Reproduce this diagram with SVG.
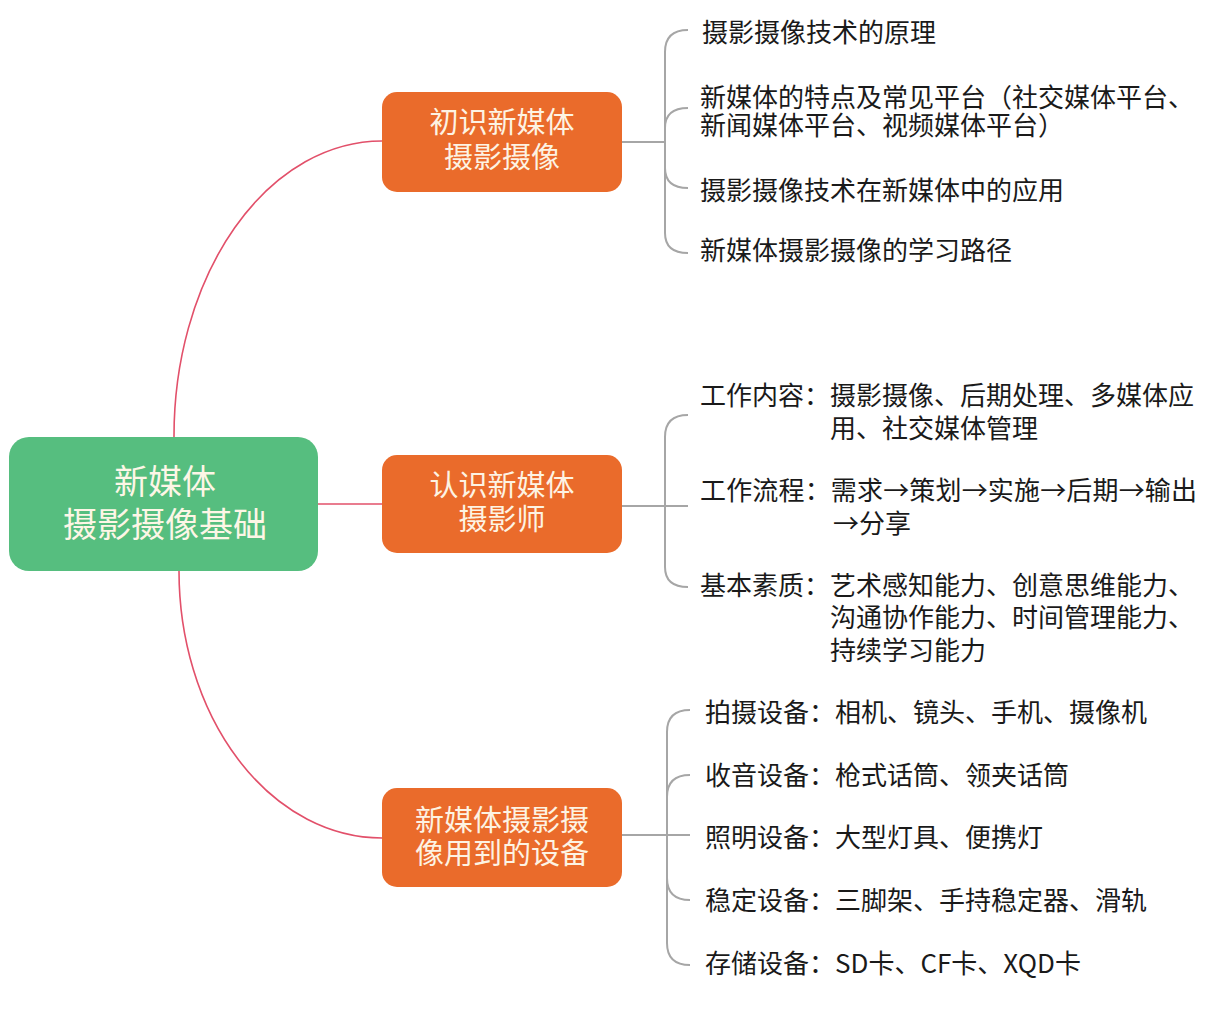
<svg xmlns="http://www.w3.org/2000/svg" width="1222" height="1017" viewBox="0 0 1222 1017">
<style>
.root{fill:#56be7f}
.branch{fill:#ea6b2b}
.rt{font-family:"Noto Sans CJK SC","Noto Sans",sans-serif;font-size:34px;fill:#fdf6e6;text-anchor:middle}
.bt{font-family:"Noto Sans CJK SC","Noto Sans",sans-serif;font-size:29px;fill:#fdf3e3;text-anchor:middle}
.lt{font-family:"Noto Sans CJK SC","Noto Sans",sans-serif;font-size:26px;fill:#1a1a1a}
.red{fill:none;stroke:#e2506a;stroke-width:1.6}
.gray{fill:none;stroke:#a6a6a6;stroke-width:2}
</style>
<rect width="1222" height="1017" fill="#ffffff"/>
<g id="connectors">
  <path class="red" d="M174,437 A208,295 0 0 1 382,141"/>
  <path class="red" d="M318,504 L382,504"/>
  <path class="red" d="M179,571 A203,267 0 0 0 382,838"/>
  <path class="gray" d="M622,142 L665,142"/>
  <path class="gray" d="M665,142 L665,52 Q665,30 688,30"/>
  <path class="gray" d="M665,142 L665,128 Q665,108 688,108"/>
  <path class="gray" d="M665,142 L665,168 Q665,188 688,188"/>
  <path class="gray" d="M665,142 L665,233 Q665,253 688,253"/>
  <path class="gray" d="M622,506 L688,506"/>
  <path class="gray" d="M665,506 L665,437 Q665,415 688,415"/>
  <path class="gray" d="M665,506 L665,567 Q665,587 688,587"/>
  <path class="gray" d="M622,835 L690,835"/>
  <path class="gray" d="M667,835 L667,732 Q667,710 690,710"/>
  <path class="gray" d="M667,835 L667,797 Q667,775 690,775"/>
  <path class="gray" d="M667,835 L667,878 Q667,900 690,900"/>
  <path class="gray" d="M667,835 L667,943 Q667,965 690,965"/>
</g>
<g id="root">
  <rect class="root" x="9" y="437" width="309" height="134" rx="20"/>
  <text class="rt"><tspan x="165" y="494">新媒体</tspan><tspan x="165" y="537">摄影摄像基础</tspan></text>
</g>
<g id="n1">
  <rect class="branch" x="382" y="92" width="240" height="100" rx="15"/>
  <text class="bt"><tspan x="502" y="133">初识新媒体</tspan><tspan x="502" y="168">摄影摄像</tspan></text>
</g>
<g id="n2">
  <rect class="branch" x="382" y="455" width="240" height="98" rx="15"/>
  <text class="bt"><tspan x="502" y="496">认识新媒体</tspan><tspan x="502" y="530">摄影师</tspan></text>
</g>
<g id="n3">
  <rect class="branch" x="382" y="788" width="240" height="99" rx="15"/>
  <text class="bt"><tspan x="502" y="831">新媒体摄影摄</tspan><tspan x="502" y="864">像用到的设备</tspan></text>
</g>
<g id="n1-1"><text class="lt" x="702" y="42">摄影摄像技术的原理</text></g>
<g id="n1-2">
  <text class="lt"><tspan x="700" y="107">新媒体的特点及常见平台（社交媒体平台、</tspan><tspan x="700" y="135">新闻媒体平台、视频媒体平台）</tspan></text>
</g>
<g id="n1-3"><text class="lt" x="700" y="200">摄影摄像技术在新媒体中的应用</text></g>
<g id="n1-4"><text class="lt" x="700" y="260">新媒体摄影摄像的学习路径</text></g>
<g id="n2-1">
  <text class="lt"><tspan x="700" y="405">工作内容：摄影摄像、后期处理、多媒体应</tspan><tspan x="830" y="438">用、社交媒体管理</tspan></text>
</g>
<g id="n2-2">
  <text class="lt"><tspan x="700" y="500" textLength="497" lengthAdjust="spacing">工作流程：需求→策划→实施→后期→输出</tspan><tspan x="833" y="533">→分享</tspan></text>
</g>
<g id="n2-3">
  <text class="lt"><tspan x="700" y="595">基本素质：艺术感知能力、创意思维能力、</tspan><tspan x="830" y="627">沟通协作能力、时间管理能力、</tspan><tspan x="830" y="660">持续学习能力</tspan></text>
</g>
<g id="n3-1"><text class="lt" x="705" y="722">拍摄设备：相机、镜头、手机、摄像机</text></g>
<g id="n3-2"><text class="lt" x="705" y="785">收音设备：枪式话筒、领夹话筒</text></g>
<g id="n3-3"><text class="lt" x="705" y="847">照明设备：大型灯具、便携灯</text></g>
<g id="n3-4"><text class="lt" x="705" y="910">稳定设备：三脚架、手持稳定器、滑轨</text></g>
<g id="n3-5"><text class="lt" x="705" y="973">存储设备：SD卡、CF卡、XQD卡</text></g>
</svg>
